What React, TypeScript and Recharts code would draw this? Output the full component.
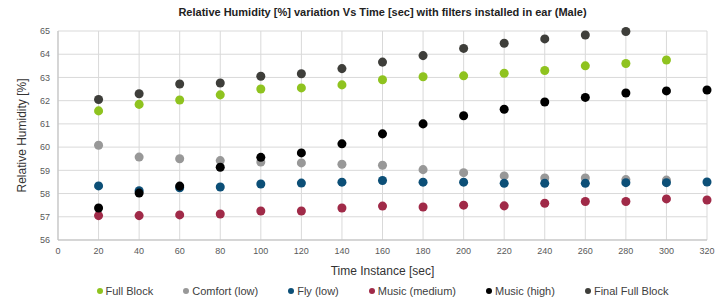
import React from "react";
import { ScatterChart, Scatter, XAxis, YAxis, ZAxis, CartesianGrid, Legend } from "recharts";

const FONT = "'Liberation Sans', Arial, sans-serif";

const xTicks = [0, 20, 40, 60, 80, 100, 120, 140, 160, 180, 200, 220, 240, 260, 280, 300, 320];
const yTicks = [56, 57, 58, 59, 60, 61, 62, 63, 64, 65];

const times = [20, 40, 60, 80, 100, 120, 140, 160, 180, 200, 220, 240, 260, 280, 300, 320];

const fullBlock = [61.56, 61.84, 62.03, 62.25, 62.5, 62.55, 62.68, 62.9, 63.03, 63.07, 63.18, 63.3, 63.5, 63.6, 63.75];
const comfortLow = [60.08, 59.57, 59.5, 59.42, 59.36, 59.32, 59.26, 59.22, 59.03, 58.9, 58.76, 58.67, 58.67, 58.6, 58.58];
const flyLow = [58.33, 58.12, 58.25, 58.28, 58.41, 58.45, 58.49, 58.56, 58.49, 58.49, 58.44, 58.44, 58.44, 58.47, 58.47, 58.5];
const musicMedium = [57.05, 57.05, 57.08, 57.12, 57.25, 57.25, 57.38, 57.46, 57.42, 57.5, 57.47, 57.58, 57.66, 57.66, 57.77, 57.72];
const musicHigh = [57.38, 58.02, 58.32, 59.13, 59.56, 59.75, 60.14, 60.57, 61.0, 61.35, 61.63, 61.94, 62.14, 62.33, 62.42, 62.46];
const finalFullBlock = [62.05, 62.3, 62.72, 62.76, 63.05, 63.16, 63.38, 63.66, 63.94, 64.25, 64.47, 64.66, 64.83, 64.98];

const series = [
  { name: "Full Block", values: fullBlock, color: "#8fc31f" },
  { name: "Comfort (low)", values: comfortLow, color: "#989898" },
  { name: "Fly (low)", values: flyLow, color: "#0c4f77" },
  { name: "Music (medium)", values: musicMedium, color: "#a02a48" },
  { name: "Music (high)", values: musicHigh, color: "#000000" },
  { name: "Final Full Block", values: finalFullBlock, color: "#3e3e3a" },
];

const toPoints = (values: number[]) => values.map((v, i) => ({ x: times[i], y: v }));

const renderLegend = () => (
  <div style={{ display: "flex", justifyContent: "center", gap: 30, fontFamily: FONT, fontSize: 11, color: "#404040", paddingLeft: 58, paddingTop: 5 }}>
    {series.map((s) => (
      <div key={s.name} style={{ display: "flex", alignItems: "center", gap: 3 }}>
        <span style={{ width: 6, height: 6, borderRadius: "50%", backgroundColor: s.color, display: "inline-block" }}></span>
        <span>{s.name}</span>
      </div>
    ))}
  </div>
);

export default function App() {
  return (
    <div style={{ position: "absolute", left: 0, top: 0, width: 725, height: 302, background: "#fff" }}>
      <div style={{ position: "absolute", top: 6, left: 58, width: 649, textAlign: "center", fontFamily: FONT, fontSize: 11, fontWeight: "bold", color: "#222" }}>
        Relative Humidity [%] variation Vs Time [sec] with filters installed in ear (Male)
      </div>
      <ScatterChart width={725} height={302} margin={{ top: 31, right: 18, bottom: 0, left: 0 }}>
        <CartesianGrid stroke="#d9d9d9" />
        <XAxis
          type="number"
          dataKey="x"
          domain={[0, 320]}
          ticks={xTicks}
          interval={0}
          height={40}
          stroke="#bfbfbf"
          tickLine={false}
          tick={{ fill: "#595959", fontSize: 9, fontFamily: FONT }}
          label={{ value: "Time Instance [sec]", position: "insideBottom", offset: 5, style: { fill: "#333", fontSize: 12, fontFamily: FONT } }}
        />
        <YAxis
          type="number"
          dataKey="y"
          domain={[56, 65]}
          ticks={yTicks}
          interval={0}
          width={58}
          stroke="#bfbfbf"
          tickLine={false}
          tick={{ fill: "#595959", fontSize: 9, fontFamily: FONT }}
          label={{ value: "Relative Humidity [%]", angle: -90, position: "insideLeft", offset: 22, style: { textAnchor: "middle", fill: "#333", fontSize: 12, fontFamily: FONT } }}
        />
        <ZAxis range={[52, 52]} />
        <Legend verticalAlign="bottom" height={22} content={renderLegend} />
        {series.map((s) => (
          <Scatter key={s.name} name={s.name} data={toPoints(s.values)} fill={s.color} shape="circle" isAnimationActive={false} />
        ))}
      </ScatterChart>
    </div>
  );
}
